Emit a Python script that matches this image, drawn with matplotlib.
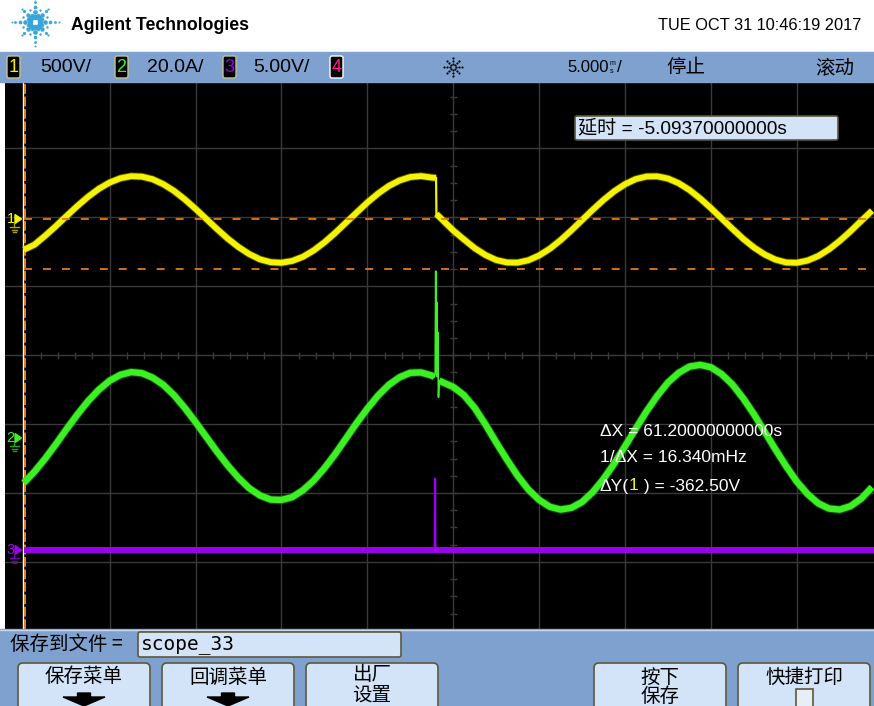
import numpy as np
import matplotlib
matplotlib.use("Agg")
import matplotlib.pyplot as plt
from matplotlib import font_manager
from matplotlib.patches import Rectangle, FancyBboxPatch, Polygon

W, H = 874, 706

# --- traces (time in s, 5 s/div, screen centre = 0 s) ---
times_left = [-25.0, -24.375, -23.75, -23.125, -22.5, -21.875, -21.25, -20.625, -20.0, -19.375,
              -18.75, -18.125, -17.5, -16.875, -16.25, -15.625, -15.0, -14.375, -13.75, -13.125,
              -12.5, -11.875, -11.25, -10.625, -10.0, -9.375, -8.75, -8.125, -7.5, -6.875,
              -6.25, -5.625, -5.0, -4.375, -3.75, -3.125, -2.5, -1.875, -1.25]
times_right = [0.0, 0.625, 1.25, 1.875, 2.5, 3.125, 3.75, 4.375, 5.0, 5.625,
               6.25, 6.875, 7.5, 8.125, 8.75, 9.375, 10.0, 10.625, 11.25, 11.875,
               12.5, 13.125, 13.75, 14.375, 15.0, 15.625, 16.25, 16.875, 17.5, 18.125,
               18.75, 19.375, 20.0, 20.625, 21.25, 21.875, 22.5, 23.125, 23.75, 24.375]

# channel 1, volts (500 V/div)
yellow_t1 = times_left + [-1.0]
yellow_v1 = [-220, -183, -118, -48, 26, 98, 165, 223, 268, 299,
             314, 311, 292, 256, 207, 146, 77, 4, -69, -139,
             -200, -251, -289, -310, -314, -301, -271, -225, -166, -98,
             -24, 50, 123, 188, 243, 283, 308, 315, 304, 302]
yellow_t2 = [-0.98] + times_right
yellow_v2 = [40, -80, -145, -208, -258, -294, -312, -313, -296, -261, -212,
             -150, -79, -4, 71, 142, 205, 256, 293, 312, 313,
             297, 263, 214, 152, 82, 7, -68, -140, -203, -254,
             -291, -312, -314, -298, -265, -216, -155, -85, -10, 64]

# channel 2, amps (20 A/div)
green_t1 = times_left + [-1.10]
green_a1 = [-12.9, -9.6, -5.8, -1.6, 2.8, 7.0, 10.9, 14.2, 16.8, 18.5,
            19.3, 19.0, 17.7, 15.6, 12.6, 8.9, 4.8, 0.5, -3.8, -7.8,
            -11.4, -14.4, -16.5, -17.7, -17.8, -17.0, -15.0, -12.2, -8.6, -4.5,
            0.0, 4.5, 8.7, 12.5, 15.6, 17.8, 19.1, 19.2, 18.3, 17.9]
green_spike_t = [-1.10, -1.05, -1.02, -0.99, -0.96, -0.93, -0.90, -0.86, -0.82]
green_spike_a = [17.9, 19.0, 48.6, 22.0, 39.6, 18.0, 30.9, 12.0, 16.8]
green_t2 = [-0.82] + times_right
green_a2 = [16.8, 15.0, 12.6, 8.9, 4.1, -1.1, -6.1, -10.8, -14.8, -17.8, -19.8,
            -20.6, -20.1, -18.4, -15.5, -11.7, -7.2, -2.2, 2.9, 7.9, 12.4,
            16.3, 19.1, 20.9, 21.4, 20.7, 18.7, 15.7, 11.7, 7.1, 2.0,
            -3.1, -8.0, -12.5, -16.1, -18.8, -20.3, -20.6, -19.6, -17.4, -14.1]

# channel 3, volts (5 V/div)
purple_t = [-25, 24.5]
purple_v = [0.0, 0.0]
purple_spike_t = [-1.08, -1.06, -1.04]
purple_spike_v = [0.0, 5.2, 0.0]

# Y cursors on channel 1 (V)
cursor_v = [0.0, -362.5]

ch_scale = {1: 500.0, 2: 20.0, 3: 5.0}
ch_pos = {1: 1.97, 2: -1.21, 3: -2.83}
ch_color = {1: "#f4f400", 2: "#3cf024", 3: "#9c00ec", 4: "#ff1a8c"}
ch_dark = {1: "#a8a000", 2: "#20a010", 3: "#7000b0"}

bar_labels = ["500V/", "20.0A/", "5.00V/"]
meas_lines = ["ΔX = 61.20000000000s", "1/ΔX = 16.340mHz"]
delay_text = "延时 = -5.09370000000s"

names = {f.name for f in font_manager.fontManager.ttflist}
HAS_NARROW = "Liberation Sans Narrow" in names
NARROW = "Liberation Sans Narrow" if HAS_NARROW else "Liberation Sans"
UI = ["Liberation Sans", "Noto Sans CJK SC", "DejaVu Sans"]
CJK = ["Noto Sans CJK SC", "DejaVu Sans"]

BAR = "#7ea1cf"
KEY = "#d3e4f8"
EDGE = "#5e5838"


def to_div(values, ch):
    return np.asarray(values, dtype=float) / ch_scale[ch] + ch_pos[ch]


def draw_screen(ax):
    ax.set_facecolor("black")
    ax.set_xlim(-26.09, 24.49)
    ax.set_ylim(-3.973, 3.965)
    ax.set_xticks([])
    ax.set_yticks([])
    for s in ax.spines.values():
        s.set_visible(False)
    g = "#3a3a3a"
    for t in range(-20, 25, 5):
        ax.axvline(t, color=g, lw=1, zorder=1)
    for d in range(-3, 4):
        ax.axhline(d, color=g, lw=1, zorder=1)
    ax.vlines(np.arange(-25, 24.6, 1.0), -0.05, 0.05, color=g, lw=1, zorder=1)
    ax.hlines(np.arange(-4, 4.01, 0.25), -0.2, 0.2, color=g, lw=1, zorder=1)
    # X cursor at left edge
    ax.axvline(-25.02, color="white", lw=1.0, zorder=2)
    ax.axvline(-24.93, color="#f08020", lw=1.4, dashes=(5, 1.4), zorder=2)


def draw_traces(ax):
    # purple
    ax.plot(purple_t, to_div(purple_v, 3), color=ch_color[3], lw=4.3, solid_capstyle="butt", zorder=3)
    ax.plot(purple_spike_t, to_div(purple_spike_v, 3), color=ch_color[3], lw=1.6, zorder=3)
    # green
    for t, a in [(green_t1, green_a1), (green_t2, green_a2)]:
        ax.plot(t, to_div(a, 2), color=ch_dark[2], lw=6.0, alpha=0.5, zorder=4, solid_capstyle="butt")
        ax.plot(t, to_div(a, 2), color=ch_color[2], lw=4.6, zorder=4, solid_capstyle="butt")
    ax.plot(green_spike_t, to_div(green_spike_a, 2), color=ch_color[2], lw=1.2, zorder=4)
    # yellow
    for t, v in [(yellow_t1, yellow_v1), (yellow_t2, yellow_v2)]:
        ax.plot(t, to_div(v, 1), color=ch_dark[1], lw=5.5, alpha=0.5, zorder=5, solid_capstyle="butt")
        ax.plot(t, to_div(v, 1), color=ch_color[1], lw=4.2, zorder=5, solid_capstyle="butt")
    ax.plot([yellow_t1[-1], yellow_t2[0]], to_div([yellow_v1[-1], yellow_v2[0]], 1),
            color=ch_color[1], lw=1.6, zorder=5)
    # Y cursors
    for v in cursor_v:
        y = to_div([v, v], 1)
        ax.plot([-25, 24.49], y, color="#e07820", lw=1.3, dashes=(4.4, 6.1), zorder=6)


def spark(ov, cx, cy, rays):
    # rays: list of (angle in degrees, radii, sizes)
    for ang, radii, sizes in rays:
        a = np.deg2rad(ang)
        for r, s in zip(radii, sizes):
            ov.scatter(cx + r * np.cos(a), cy + r * np.sin(a), s=s, color="#38a6da", lw=0, zorder=5)


def small_star(ov, cx, cy):
    for k in range(8):
        a = np.pi * k / 4
        for r in [3, 6, 9]:
            ov.scatter(cx + r * np.cos(a), cy + r * np.sin(a), s=2.5, color="black", lw=0, zorder=5)


def key(ov, x, w, y=663, h=60):
    ov.add_patch(FancyBboxPatch((x, y), w, h, boxstyle="round,pad=0,rounding_size=5",
                                fc=KEY, ec=EDGE, lw=1.2, zorder=3))


def down_arrow(ov, cx):
    ov.add_patch(Polygon([(cx - 6.5, 693), (cx + 6.5, 693), (cx + 6.5, 697), (cx + 21, 697),
                          (cx, 706), (cx - 21, 697), (cx - 6.5, 697)], closed=True,
                         color="black", zorder=4))


def ground_marker(ov, y, ch):
    c = ch_color[ch]
    ov.text(10.5, y, str(ch), color=c, fontsize=10.5, family=UI, ha="center", va="center", zorder=6)
    ov.add_patch(Polygon([(15, y - 4.5), (15, y + 4.5), (21.5, y)], closed=True, color=c, zorder=6))
    d = ch_dark[ch]
    ov.plot([14, 14], [y + 4, y + 8], color=d, lw=1, zorder=6)
    ov.plot([10, 19], [y + 8, y + 8], color=d, lw=1, zorder=6)
    ov.plot([11.5, 17], [y + 10.5, y + 10.5], color=d, lw=1, zorder=6)
    ov.plot([13, 15.5], [y + 13, y + 13], color=d, lw=1, zorder=6)


def text_parts(fig, ov, x, y, parts, **kw):
    r = fig.canvas.get_renderer()
    for s, c in parts:
        t = ov.text(x, y, s, color=c, ha="left", va="center", **kw)
        bb = t.get_window_extent(renderer=r)
        x = ov.transData.inverted().transform((bb.x1, bb.y0))[0]


def draw_chrome(fig, ov):
    # header
    long_r, long_s = [5, 10, 15, 20, 23.5], [16, 11, 7, 4, 2]
    diag_r, diag_s = [5, 10, 15, 19], [16, 10, 5, 2.5]
    rays = []
    for ang in [0, 90, 180, 270]:
        rays.append((ang, long_r, long_s))
    for ang in [45, 135, 225, 315]:
        rays.append((ang, diag_r, diag_s))
    for ang in [22.5, 67.5, 112.5, 157.5, 202.5, 247.5, 292.5, 337.5]:
        rays.append((ang, [8, 13], [6, 3]))
    spark(ov, 35, 22, rays)
    ov.text(71, 26, "Agilent Technologies", family=NARROW, weight="bold",
            fontsize=15.5 if HAS_NARROW else 12.7, va="center", ha="left", color="black")
    ov.text(861, 26, "TUE OCT 31 10:46:19 2017", family=NARROW,
            fontsize=14.6 if HAS_NARROW else 11.8, va="center", ha="right", color="black")

    # channel bar
    ov.add_patch(Rectangle((0, 52), W, 29.5, color=BAR, zorder=1))
    for i, x in enumerate([7, 115, 223, 330]):
        ch = i + 1
        ov.add_patch(FancyBboxPatch((x, 56), 13, 22, boxstyle="round,pad=0,rounding_size=2",
                                    fc="black", ec="white" if ch == 4 else "#c8c090", lw=1, zorder=2))
        ov.text(x + 6.5, 67.5, str(ch), color=ch_color[ch], fontsize=13, family=UI,
                ha="center", va="center", zorder=3)
    for x, s in zip([40, 147, 253], bar_labels):
        ov.text(x, 67.5, s, fontsize=14, family=UI, ha="left", va="center", color="black", zorder=3)
    small_star(ov, 453, 67)
    ov.text(567, 67.5, "5.000", fontsize=12, family=UI, ha="left", va="center", color="black", zorder=3)
    ov.text(612, 63.5, "m", fontsize=5, family=UI, ha="center", va="center", color="black", zorder=3)
    ov.text(612, 71.5, "s", fontsize=5, family=UI, ha="center", va="center", color="black", zorder=3)
    ov.text(617, 67.5, "/", fontsize=12.5, family=UI, ha="left", va="center", color="black", zorder=3)
    ov.text(666, 67.5, "停止", fontsize=14, family=CJK, ha="left", va="center", color="black", zorder=3)
    ov.text(815, 67.5, "滚动", fontsize=14, family=CJK, ha="left", va="center", color="black", zorder=3)

    # delay box
    ov.add_patch(FancyBboxPatch((575, 116), 263, 24, boxstyle="round,pad=0,rounding_size=2",
                                fc=KEY, ec=EDGE, lw=1.2, zorder=6))
    ov.text(578, 128.5, delay_text, fontsize=13.8, family=UI, ha="left", va="center", color="black", zorder=7)

    # measurements
    for y, s in zip([431, 458], meas_lines):
        ov.text(600, y, s, fontsize=12.5, family=UI, ha="left", va="center", color="white", zorder=7)
    text_parts(fig, ov, 600, 486, [("ΔY(", "white"), ("1", ch_color[1]), (" ) = -362.50V", "white")],
               fontsize=12.5, family=UI, zorder=7)

    # ground markers
    ground_marker(ov, 219, 1)
    ground_marker(ov, 438, 2)
    ground_marker(ov, 550, 3)

    # bottom bar
    ov.add_patch(Rectangle((0, 629), W, 77, color=BAR, zorder=1))
    ov.plot([0, W], [630, 630], color="#c8d8ee", lw=1, zorder=2)
    ov.text(10, 645, "保存到文件 =", fontsize=14, family=CJK, ha="left", va="center", color="black", zorder=3)
    ov.add_patch(FancyBboxPatch((138, 632), 263, 25, boxstyle="round,pad=0,rounding_size=2",
                                fc=KEY, ec=EDGE, lw=1.2, zorder=3))
    ov.text(141, 645, "scope_33", fontsize=14, family="DejaVu Sans Mono", ha="left", va="center",
            color="black", zorder=4)

    for x in [18, 162, 306, 594, 738]:
        key(ov, x, 132)
    kw = dict(fontsize=14, family=CJK, ha="center", va="center", color="black", zorder=4)
    ov.text(84, 677, "保存菜单", **kw)
    down_arrow(ov, 84)
    ov.text(228, 677, "回调菜单", **kw)
    down_arrow(ov, 228)
    ov.text(372, 675, "出厂", **kw)
    ov.text(372, 695, "设置", **kw)
    ov.text(660, 677, "按下", **kw)
    ov.text(660, 697, "保存", **kw)
    ov.text(804, 677, "快捷打印", **kw)
    ov.add_patch(Rectangle((796, 689), 17, 20, fc="#e6eef8", ec=EDGE, lw=1.2, zorder=4))


def main():
    fig = plt.figure(figsize=(W / 100, H / 100), dpi=100, facecolor="white")
    ax = fig.add_axes([5 / W, (H - 629) / H, 869 / W, 547 / H], zorder=0)
    draw_screen(ax)
    draw_traces(ax)
    ov = fig.add_axes([0, 0, 1, 1], zorder=1)
    ov.set_xlim(0, W)
    ov.set_ylim(H, 0)
    ov.axis("off")
    ov.patch.set_alpha(0)
    draw_chrome(fig, ov)
    fig.savefig("out.png", dpi=100, facecolor="white")


if __name__ == "__main__":
    main()
